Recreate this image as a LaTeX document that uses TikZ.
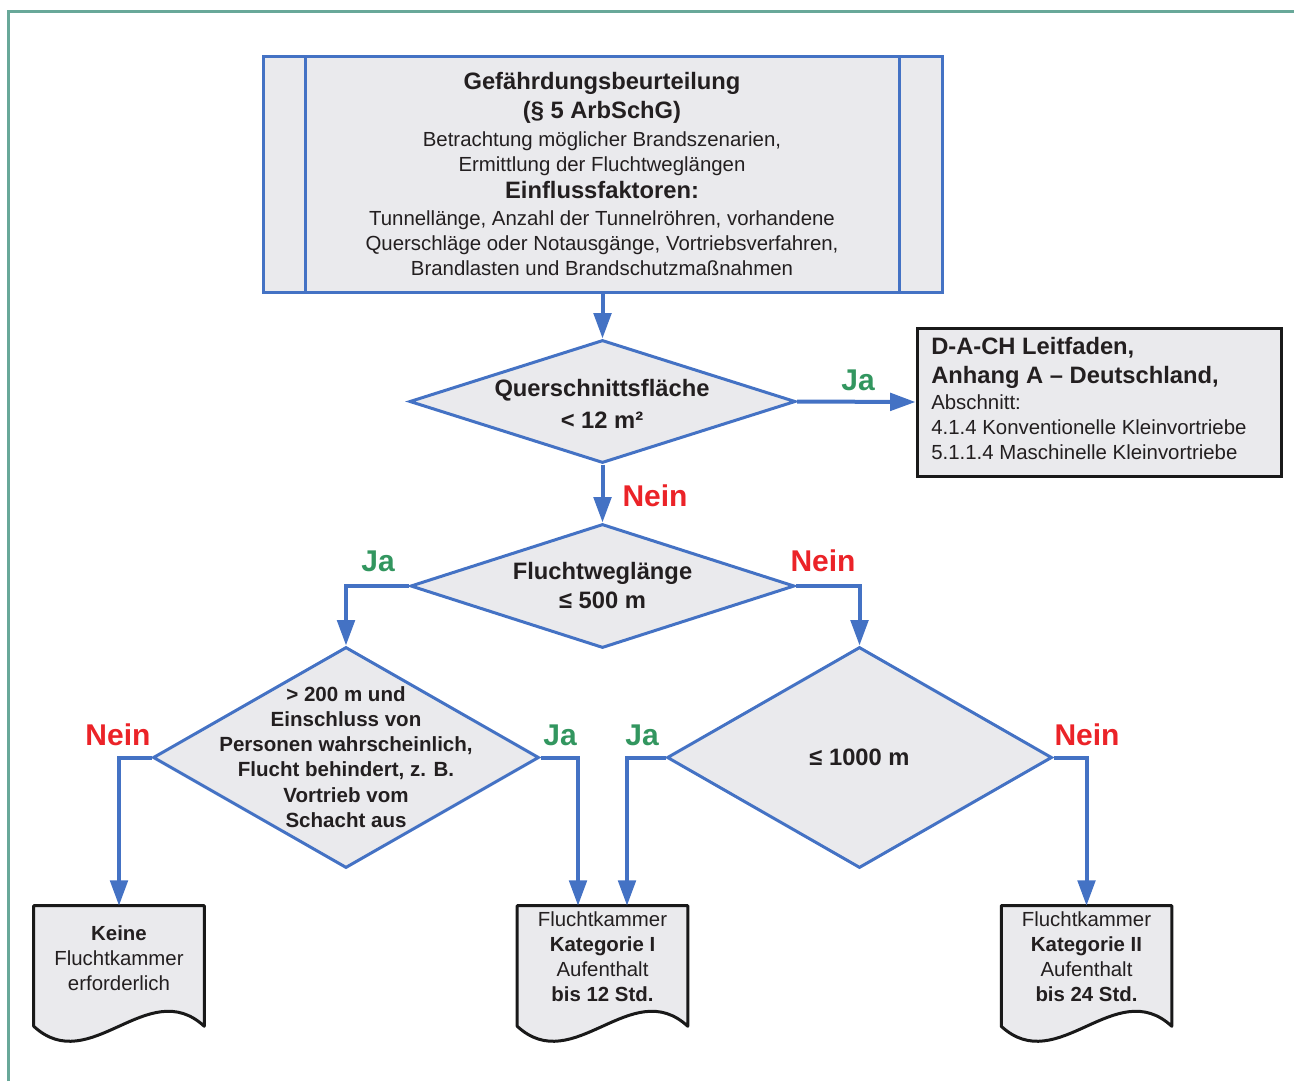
\documentclass[tikz,border=0pt]{standalone}
\usepackage{fontspec}
\setmainfont{Liberation Sans}
\usetikzlibrary{arrows.meta,shapes.geometric,calc}
\definecolor{cblue}{RGB}{68,114,196}
\definecolor{cfill}{RGB}{234,234,237}
\definecolor{cframe}{RGB}{104,168,153}
\definecolor{cgreen}{RGB}{50,150,95}
\definecolor{cred}{RGB}{235,35,40}
\definecolor{ctext}{RGB}{35,31,32}
\newcommand\fN{\fontsize{15.3}{18.75}\selectfont}
\newcommand\fBig{\fontsize{17.8}{21.75}\selectfont\bfseries}
\newcommand\fLab{\fontsize{22.5}{26}\selectfont\bfseries}
\newcommand\fDia{\fontsize{15.4}{18.9}\selectfont\bfseries}
\newcommand\docoutline[1]{%
  \draw[docline] (#1.south west) -- (#1.north west) -- (#1.north east) -- (#1.south east)
    .. controls ($(#1.south east)!0.33!(#1.south west)+(0,-52)$) and ($(#1.south east)!0.67!(#1.south west)+(0,52)$) .. (#1.south west) -- cycle;}
\begin{document}
\begin{tikzpicture}[x=0.75pt,y=-0.75pt,
  every node/.style={text=ctext},
  dia/.style={diamond, draw=cblue, line width=2.25pt, fill=cfill, inner sep=0pt},
  arr/.style={draw=cblue, line width=3pt, -{Triangle[length=19pt,width=13pt]}},
  blueline/.style={draw=cblue, line width=2.25pt},
  docline/.style={draw=black!90, line width=2.25pt, fill=cfill, line join=round},
  docbox/.style={rectangle, minimum width=127.5pt, minimum height=90pt, inner sep=0pt},
  doctext/.style={align=center, font=\fN, inner sep=0pt},
  ja/.style={text=cgreen, font=\fLab, inner sep=0pt},
  nein/.style={text=cred, font=\fLab, inner sep=0pt},
  frameline/.style={draw=cframe, line width=2.25pt}
]
\useasboundingbox (0,0) rectangle (1294,1081);
\draw[frameline] (8.5,1081) -- (8.5,11.5) -- (1294,11.5);

% top box
\node[draw=cblue, line width=2.25pt, fill=cfill, minimum width=509.25pt, minimum height=176.25pt, inner sep=0pt] (gb) at (602.5,174.5) {};
\draw[blueline] ([xshift=33pt]gb.north west) -- ([xshift=33pt]gb.south west);
\draw[blueline] ([xshift=-33pt]gb.north east) -- ([xshift=-33pt]gb.south east);
\node[align=center, font=\fN, inner sep=0pt] (gbt) at (602,174.3) {%
  {\fBig Gefährdungsbeurteilung}\\[3pt]
  {\fBig (§ 5 ArbSchG)}\\[2.25pt]
  Betrachtung möglicher Brandszenarien,\\
  Ermittlung der Fluchtweglängen\\[1.5pt]
  {\fBig Einflussfaktoren:}\\[1.5pt]
  Tunnellänge, Anzahl der Tunnelröhren, vorhandene\\
  Querschläge oder Notausgänge, Vortriebsverfahren,\\
  Brandlasten und Brandschutzmaßnahmen};

% diamond 1
\node[dia, minimum width=289.5pt, minimum height=92.25pt] (d1) at (602.5,401.5) {};
\node[align=center, font=\fBig, inner sep=0pt] (d1t) at (602,404) {Querschnittsfläche\\[2.25pt] < 12 m²};

% DACH box
\node[draw=black!90, line width=2.25pt, fill=cfill, minimum width=273pt, minimum height=111pt, inner sep=0pt] (dach) at (1099,402) {};
\node[align=left, font=\fN, anchor=west, inner sep=0pt] (dacht) at (931,398.5) {%
  {\fBig D-A-CH Leitfaden,}\\[3pt]
  {\fBig Anhang A – Deutschland,}\\[0.75pt]
  Abschnitt:\\
  4.1.4 Konventionelle Kleinvortriebe\\
  5.1.1.4 Maschinelle Kleinvortriebe};

% diamond 2
\node[dia, minimum width=288pt, minimum height=93pt] (d2) at (602.5,586) {};
\node[align=center, font=\fBig, inner sep=0pt] (d2t) at (602.5,586) {Fluchtweglänge\\ ≤ 500 m};

% diamond 3
\node[dia, minimum width=289.5pt, minimum height=165.75pt] (d3) at (346,757.5) {};
\node[align=center, font=\fDia, inner sep=0pt] (d3t) at (346,757) {%
  > 200 m und\\ Einschluss von\\ Personen wahrscheinlich,\\ Flucht behindert, z. B.\\ Vortrieb vom\\ Schacht aus};

% diamond 4
\node[dia, minimum width=288.75pt, minimum height=165.75pt] (d4) at (859.5,757.5) {};
\node[font=\fBig, inner sep=0pt] (d4t) at (859.5,757) {≤ 1000 m};

% documents
\node[docbox] (k1) at (119,966) {};
\node[docbox] (k2) at (602.5,966) {};
\node[docbox] (k3) at (1086.5,966) {};
\docoutline{k1}
\docoutline{k2}
\docoutline{k3}
\node[doctext] (k1t) at (119,958) {\textbf{Keine}\\ Fluchtkammer\\ erforderlich};
\node[doctext] (k2t) at (602.5,957) {Fluchtkammer\\ \textbf{Kategorie I}\\ Aufenthalt\\ \textbf{bis 12 Std.}};
\node[doctext] (k3t) at (1086.5,957) {Fluchtkammer\\ \textbf{Kategorie II}\\ Aufenthalt\\ \textbf{bis 24 Std.}};
\coordinate (k2l) at ($(k2.north)+(-24.5,0)$);
\coordinate (k2r) at ($(k2.north)+(24.5,0)$);

% connectors
\draw[arr] (gb.south) -- (d1.north);
\draw[arr] (d1.east) -- (dach.west);
\draw[arr] (d1.south) -- (d2.north);
\draw[arr] (d2.west) -| (d3.north);
\draw[arr] (d2.east) -| (d4.north);
\draw[arr] (d3.west) -| (k1.north);
\draw[arr] (d3.east) -| (k2l);
\draw[arr] (d4.west) -| (k2r);
\draw[arr] (d4.east) -| (k3.north);

% labels
\node[ja] (l1) at (858,380) {Ja};
\node[nein] (l2) at (655,496) {Nein};
\node[ja] (l3) at (378,561) {Ja};
\node[nein] (l4) at (823,561) {Nein};
\node[nein] (l5) at (118,735) {Nein};
\node[ja] (l6) at (560,735) {Ja};
\node[ja] (l7) at (642,735) {Ja};
\node[nein] (l8) at (1087,735) {Nein};
\end{tikzpicture}
\end{document}
